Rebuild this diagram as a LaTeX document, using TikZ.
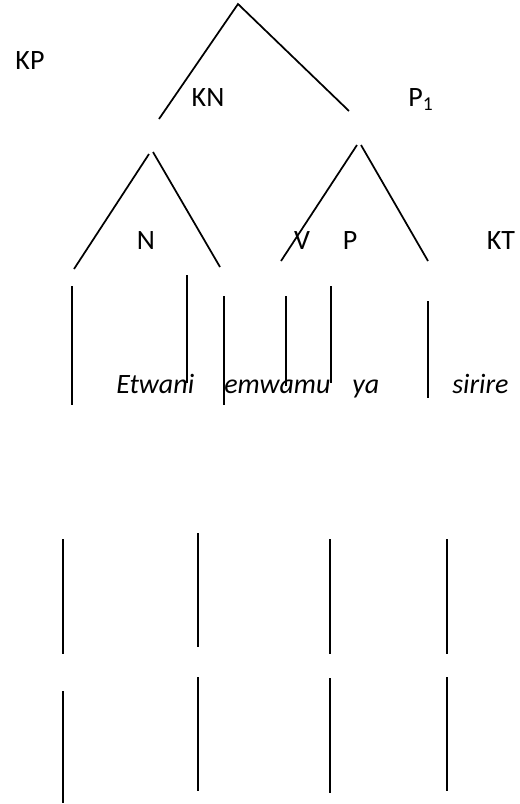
\documentclass[tikz,border=0pt]{standalone}
\usepackage{fontspec}
\setmainfont{Carlito}
\usetikzlibrary{positioning}

\begin{document}
\begin{tikzpicture}[x=0.75pt,y=-0.75pt,
		branch/.style={line width=1.3pt},
		lbl/.style={anchor=base,inner sep=0pt,font=\fontsize{21}{25}\selectfont},
		word/.style={lbl,anchor=base west,font=\fontsize{21}{25}\selectfont\itshape}]
		
		\useasboundingbox (0,0) rectangle (519,804);
		
		% category labels
		\node[lbl] (kp) at (30,69) {KP};
		\node[lbl] (kn) at (208,106) {KN};
		\node[lbl] (p1) at (421,106) {P\textsubscript{1}};
		\node[lbl] (n) at (146,249) {N};
		\node[lbl] (v) at (302,249) {V};
		\node[lbl] (p) at (350,249) {P};
		\node[lbl] (kt) at (501,249) {KT};
		
		% words (left edges)
		\node[word] (etwani) at (116,393) {Etwani};
		\node[word] (emwamu) at (224,393) {emwamu};
		\node[word] (ya) at (352,393) {ya};
		\node[word] (sirire) at (452,393) {sirire};
		
		% top branches
		\coordinate (top) at (238,4);
		\coordinate (topl) at (159,119);
		\coordinate (topr) at (349,111);
		\draw[branch] (topl) -- (top) -- (topr);
		
		% left triangle
		\coordinate (la) at (149,154);
		\coordinate (lb) at (153,152);
		\coordinate (ll) at (74,269);
		\coordinate (lr) at (220,267);
		\draw[branch] (la) -- (ll);
		\draw[branch] (lb) -- (lr);
		
		% right triangle
		\coordinate (ra) at (357,145);
		\coordinate (rb) at (361,145);
		\coordinate (rl) at (281,261);
		\coordinate (rr) at (428,261);
		\draw[branch] (ra) -- (rl);
		\draw[branch] (rb) -- (rr);
		
		% vertical bars
		\foreach \x/\ya/\yb [count=\i] in {72/286/405, 187/275/383, 224/296/405,
			286/296/386, 331/286/383, 428/301/398,
			63/539/654, 198/533/647, 330/539/654, 447/539/654,
			63/691/803, 198/677/791, 330/678/793, 447/677/791}{
			\coordinate (bar\i a) at (\x,\ya);
			\coordinate (bar\i b) at (\x,\yb);
			\draw[branch] (bar\i a) -- (bar\i b);
		}
		
	\end{tikzpicture}
\end{document}
